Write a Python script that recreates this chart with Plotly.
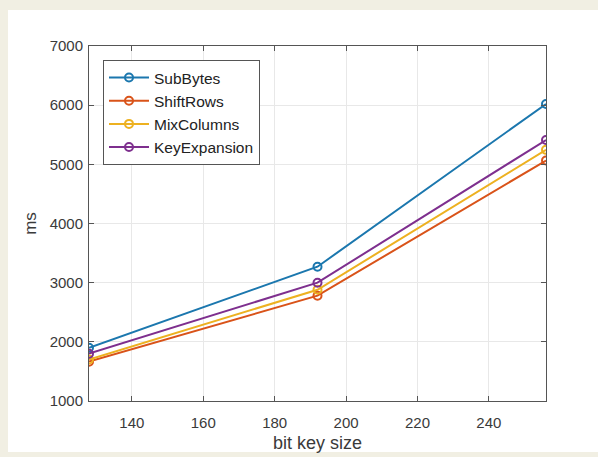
import plotly.graph_objects as go

key_sizes = [128, 192, 256]
sub_bytes = [1900, 3270, 6020]
shift_rows = [1665, 2780, 5065]
mix_columns = [1700, 2880, 5245]
key_expansion = [1800, 3000, 5410]

series_names = ["SubBytes", "ShiftRows", "MixColumns", "KeyExpansion"]
series_values = [sub_bytes, shift_rows, mix_columns, key_expansion]
colors = ["#1B77AE", "#D95319", "#EDB120", "#7E2F8E"]

x_ticks = [140, 160, 180, 200, 220, 240]
y_ticks = [1000, 2000, 3000, 4000, 5000, 6000, 7000]

fig = go.Figure()
for name, vals, col in zip(series_names, series_values, colors):
    fig.add_trace(go.Scatter(
        x=key_sizes, y=vals, name=name, mode="lines+markers", legendgroup=name,
        line=dict(color=col, width=2),
        marker=dict(symbol="circle-open", size=8, color=col, line=dict(width=2, color=col)),
    ))

L, R, T, B = 89, 52, 46, 56
W, H = 598, 457
pw, ph = W - L - R, H - T - B

def px_x(px):
    return (px - L) / pw

def px_y(py):
    return (H - B - py) / ph

fig.add_shape(type="rect", xref="paper", yref="paper",
              x0=px_x(8), x1=px_x(598), y0=px_y(452), y1=px_y(10),
              fillcolor="white", line=dict(width=0), layer="below")

FONT = "Liberation Sans, Arial"
axis_common = dict(
    showline=True, linecolor="#555555", linewidth=1, mirror="ticks",
    ticks="inside", ticklen=5, tickcolor="#555555",
    showgrid=True, gridcolor="#e8e8e8", gridwidth=1, zeroline=False,
    tickfont=dict(family=FONT, size=15, color="#3a3a3a"),
    automargin=False,
)

fig.update_xaxes(range=[128, 256], tickvals=x_ticks, ticklabelstandoff=8,
                 title=dict(text="bit key size", font=dict(family=FONT, size=18, color="#3a3a3a"), standoff=6),
                 **axis_common)
fig.update_yaxes(range=[1000, 7000], tickvals=y_ticks, ticklabelstandoff=2,
                 title=dict(text="ms", font=dict(family=FONT, size=17, color="#3a3a3a"), standoff=8),
                 **axis_common)

fig.update_layout(
    width=W, height=H,
    margin=dict(l=L, r=R, t=T, b=B),
    paper_bgcolor="#f1efe3",
    plot_bgcolor="white",
    showlegend=True,
    legend=dict(
        x=px_x(103), y=px_y(60), xanchor="left", yanchor="top",
        bgcolor="white", bordercolor="#555555", borderwidth=1,
        font=dict(family=FONT, size=15.5, color="#222222"),
        tracegroupgap=0, traceorder="grouped", itemwidth=40,
    ),
)

fig.write_html(
    "out.html",
    config={"displayModeBar": False},
    post_script="document.body.style.margin='0';document.body.style.background='#f1efe3';",
)
